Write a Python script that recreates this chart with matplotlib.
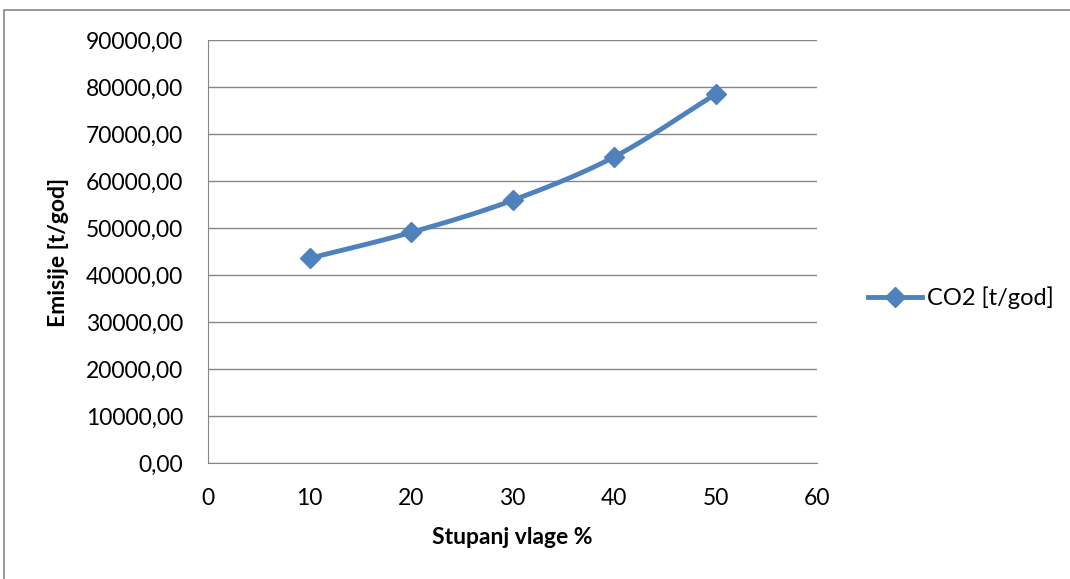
import numpy as np
import matplotlib
matplotlib.use("Agg")
import matplotlib.pyplot as plt
from matplotlib.patches import Rectangle
from matplotlib.lines import Line2D

x_vals = [10, 20, 30, 40, 50]
co2 = [43550, 49060, 55890, 65110, 78450]
series_name = "CO2 [t/god]"
x_label = "Stupanj vlage %"
y_label = "Emisije [t/god]"
x_ticks = [0, 10, 20, 30, 40, 50, 60]
y_ticks = list(range(0, 90001, 10000))

plt.rcParams['font.family'] = ['Lato', 'DejaVu Sans']
color = "#4F81BD"

def catmull_rom(xs, ys, n=30):
    xs = np.asarray(xs, float); ys = np.asarray(ys, float)
    px = np.concatenate([[2*xs[0]-xs[1]], xs, [2*xs[-1]-xs[-2]]])
    py = np.concatenate([[2*ys[0]-ys[1]], ys, [2*ys[-1]-ys[-2]]])
    ox, oy = [], []
    for i in range(1, len(px)-2):
        t = np.linspace(0, 1, n)
        for arr, out in ((px, ox), (py, oy)):
            p0, p1, p2, p3 = arr[i-1], arr[i], arr[i+1], arr[i+2]
            out.extend(0.5*((2*p1) + (-p0+p2)*t + (2*p0-5*p1+4*p2-p3)*t**2 + (-p0+3*p1-3*p2+p3)*t**3))
    return np.array(ox), np.array(oy)

fig = plt.figure(figsize=(10.7, 5.79), dpi=100)
fig.patches.append(Rectangle((4/1070, -0.1), 1.2, 1 - 10/579 + 0.1, transform=fig.transFigure,
                             fill=False, edgecolor="#868686", linewidth=1.2))
ax = fig.add_axes([208/1070, 1-463/579, (817-208)/1070, (463-40)/579])

sx, sy = catmull_rom(x_vals, co2)
ax.plot(sx, sy, color=color, linewidth=3.5, solid_capstyle='round', zorder=3)
ax.plot(x_vals, co2, linestyle='none', marker='D', markersize=10, color=color, zorder=4)

ax.set_xlim(0, 60)
ax.set_ylim(0, 90000)
ax.set_xticks(x_ticks)
ax.set_yticks(y_ticks)
ax.set_yticklabels([f"{v:.2f}".replace('.', ',') for v in y_ticks])
ax.yaxis.grid(True, color="#868686", linewidth=1)
ax.set_axisbelow(True)
for s in ['top', 'right']:
    ax.spines[s].set_visible(False)
for s in ['left', 'bottom']:
    ax.spines[s].set_color("#868686")
ax.tick_params(axis='both', length=0, labelsize=16.5, colors='black')
ax.tick_params(axis='y', pad=18)
ax.tick_params(axis='x', pad=18)

fig.text(512/1070, 1-537/579, x_label, fontsize=16.5, fontweight='bold', ha='center', va='center')
fig.text(48/1070, 1-252/579, y_label, fontsize=16.5, fontweight='bold', ha='left', va='center',
         rotation=90)

handle = Line2D([0], [0], color=color, linewidth=3.5, marker='D', markersize=10)
fig.legend([handle], [series_name], loc='center left', bbox_to_anchor=(868/1070, 1-298/579),
           frameon=False, fontsize=17, handlelength=2.3, handletextpad=0.2,
           borderpad=0, borderaxespad=0)

fig.savefig("out.png", dpi=100)
